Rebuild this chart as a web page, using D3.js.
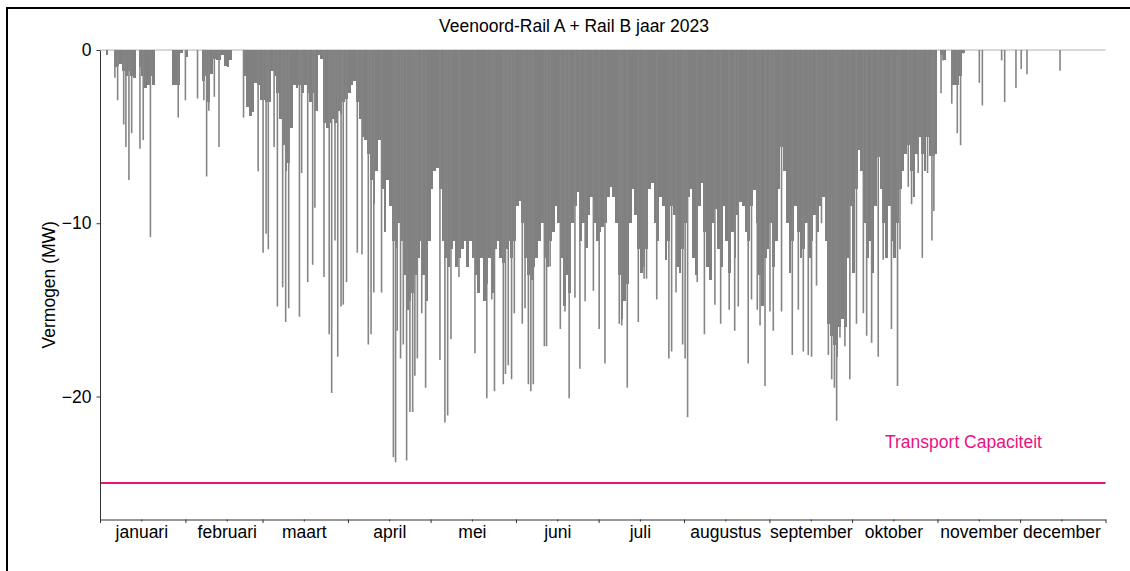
<!DOCTYPE html>
<html>
<head>
<meta charset="utf-8">
<script src="https://d3js.org/d3.v7.min.js"></script>
<style>
  body { margin: 0; background: #fff; }
  svg text { font-family: "Liberation Sans", Arial, sans-serif; }
</style>
</head>
<body>
<svg width="1130" height="571"></svg>
<script>
// dichte vulling per dag (MW), gelezen uit de grafiek
const vulJan = [0,0,-0.3,0,0,-1.0,-0.9,-0.8,-1.2,-1.5,-1.2,-1.5,-1.6,0,-1.0,-1.5,-2.2,-2.0,-1.5,-2.0,0,0,0,0,0,0,-2.0,-2.0,-2.0,-0.2,0];
const vulFeb = [-0.4,0,0,0,0,0,-1.8,-1.5,-3.0,-1.4,-0.5,-0.6,-0.6,-0.3,-0.9,-1.0,-0.6,0,0,0,0,-1.5,-3.3,-3.8,-3.6,-1.9,-2.0,-2.9];
const vulMrt = [-2.9,-3.0,-3.0,-1.2,-1.5,-2.5,-4.0,-5.5,-7.0,-6.5,-4.5,-2.0,-2.2,-2.0,-2.5,-2.0,-2.5,-3.0,-2.5,-3.5,-0.3,-0.5,-4.2,-4.5,-4.2,-4.0,-4.2,-3.5,-3.7,-3.0,-2.8];
const vulApr = [-2.5,-2.0,-1.8,-3.0,-4.0,-5.0,-5.2,-6.0,-7.5,-8.9,-7.0,-5.2,-8.0,-10.5,-7.5,-9.0,-11.0,-11.4,-10.0,-11.0,-13.0,-15.0,-14.5,-14.0,-13.0,-12.0,-11.0,-13.0,-14.5,-11.0];
const vulMei = [-8.0,-7.0,-6.8,-8.0,-11.0,-12.0,-12.5,-11.5,-11.0,-12.5,-12.0,-11.5,-11.0,-12.5,-11.0,-12.0,-13.0,-14.0,-12.0,-14.5,-13.5,-12.0,-14.0,-11.5,-11.0,-12.0,-12.3,-11.5,-11.0,-12.0,-11.0];
const vulJun = [-9.0,-8.7,-10.0,-12.0,-13.0,-13.3,-12.5,-12.0,-11.0,-10.0,-12.0,-12.5,-11.0,-10.5,-9.0,-10.0,-12.0,-14.8,-13.0,-14.0,-10.0,-9.0,-8.2,-11.0,-10.0,-11.4,-9.5,-8.5,-10.0,-11.0];
const vulJul = [-10.5,-10.2,-10.0,-8.5,-7.9,-8.5,-10.0,-13.0,-15.5,-14.5,-13.5,-10.0,-8.0,-9.5,-11.5,-12.9,-12.5,-11.5,-8.0,-7.7,-10.0,-11.0,-8.5,-9.0,-12.1,-11.0,-9.0,-9.5,-12.5,-12.9,-11.5];
const vulAug = [-10.0,-8.5,-8.0,-12.0,-13.0,-9.0,-7.7,-10.5,-12.5,-13.3,-10.0,-9.2,-11.5,-12.5,-9.0,-11.0,-12.9,-10.5,-12.0,-9.5,-8.8,-9.0,-10.5,-11.0,-9.0,-8.1,-10.0,-13.0,-14.8,-12.0,-11.5];
const vulSep = [-10.0,-12.5,-11.0,-8.0,-5.6,-7.0,-10.0,-12.9,-11.0,-9.0,-10.5,-12.0,-11.5,-10.0,-12.0,-11.0,-9.5,-10.5,-9.0,-8.5,-11.0,-15.8,-16.5,-17.0,-17.7,-16.0,-15.5,-16.0,-12.0,-9.0];
const vulOkt = [-12.9,-8.0,-5.8,-7.0,-10.0,-12.0,-11.0,-12.9,-9.0,-6.2,-8.0,-10.0,-12.0,-9.0,-11.0,-12.0,-10.0,-8.0,-7.0,-6.0,-5.5,-7.0,-8.5,-6.0,-5.0,-6.0,-7.0,-5.0,-6.1,-6.1,-6.0];
const vulNov = [0,-0.3,-0.6,0,0,-2.0,-2.0,-2.0,-1.5,-0.2,0,0,0,0,0,0,0,0,0,0,0,0,0,0,0,0,0,0,0,0];
const vulDec = [0,0,0,0,0,0,0,0,0,0,0,0,0,0,0,0,0,0,0,0,0,0,0,0,0,0,0,0,0,0,0];

// losse pieken: [dag van het jaar, MW]
const pieken = [
  [5.4,-1.6],[6.4,-2.9],[8.6,-4.3],[9.4,-5.6],[10.5,-7.5],[11.5,-4.8],[14.5,-5.7],[15.7,-5.2],[18.3,-10.8],[28.4,-3.9],
  [31.0,-2.9],[35.4,-2.8],[37.7,-2.9],[38.7,-7.3],[39.5,-3.5],[41.5,-2.7],[43.2,-5.6],[52.1,-3.9],[57.4,-7.0],
  [59.2,-11.7],[60.3,-10.6],[61.1,-11.5],[63.2,-5.6],[64.4,-14.8],[66.3,-13.7],[67.4,-15.7],[68.5,-14.9],[72.4,-15.4],[73.2,-7.1],
  [75.4,-13.4],[77.2,-12.4],[78.0,-9.1],[81.3,-13.1],[83.2,-16.4],[84.1,-19.8],[85.3,-11.0],[86.3,-17.7],[87.5,-14.8],[88.3,-14.7],[89.5,-13.4],
  [93.4,-11.7],[95.1,-11.8],[97.4,-17.0],[98.4,-16.4],[99.4,-14.0],[102.2,-14.0],[106.5,-23.5],[107.3,-23.8],[107.9,-16.2],[109.1,-17.8],
  [110.1,-17.0],[111.3,-23.7],[112.5,-20.9],[113.5,-20.9],[114.3,-18.8],[115.2,-17.8],[116.8,-15.2],[118.2,-19.5],
  [123.4,-17.9],[125.2,-21.5],[126.2,-21.1],[127.4,-16.7],[130.3,-13.1],[136.1,-17.5],[140.4,-20.1],[142.2,-14.4],[143.2,-19.7],
  [146.4,-19.3],[147.2,-18.7],[148.2,-18.2],[149.4,-19.0],[150.4,-15.2],
  [153.3,-15.8],[154.3,-14.9],[155.5,-19.3],[156.4,-19.7],[157.3,-19.3],[161.3,-17.1],[162.1,-17.1],[163.4,-12.5],[167.1,-16.1],
  [168.8,-15.1],[170.3,-20.1],[172.4,-14.3],[174.2,-18.4],[176.1,-14.5],[179.1,-13.9],
  [181.2,-16.1],[183.3,-18.1],[188.5,-15.8],[189.4,-15.9],[191.4,-19.5],[195.4,-15.7],[197.5,-13.2],[198.4,-13.2],[202.1,-14.4],
  [206.5,-17.8],[207.5,-17.4],[209.1,-14.0],[211.5,-17.0],
  [212.4,-17.8],[213.3,-21.2],[216.8,-13.4],[219.4,-16.4],[223.2,-14.7],[225.3,-15.8],[228.4,-15.0],[230.4,-16.2],[231.7,-14.8],
  [235.3,-18.1],[236.5,-14.4],[238.6,-15.0],[239.6,-15.9],[241.4,-19.4],
  [243.2,-15.1],[244.4,-16.2],[247.4,-15.1],[251.3,-17.6],[253.5,-15.0],[255.3,-17.4],[257.1,-17.6],[258.3,-17.7],[260.1,-13.6],
  [261.9,-10.0],[264.4,-17.6],[265.6,-19.0],[266.6,-19.5],[267.4,-21.4],[268.6,-16.6],[270.4,-17.1],[272.2,-19.0],
  [274.6,-15.8],[277.1,-15.2],[278.3,-16.5],[280.1,-16.9],[282.5,-17.7],[284.3,-12.1],[287.3,-16.1],[289.5,-19.4],[290.4,-11.5],
  [293.4,-7.9],[294.6,-8.9],[297.0,-7.1],[298.5,-12.0],[300.4,-7.1],[302.0,-11.0],[302.7,-9.3],
  [305.3,-2.5],[306.0,-0.6],[309.2,-3.1],[311.2,-4.8],[312.4,-5.5],[313.4,-0.2],[319.2,-1.9],[320.3,-3.2],
  [327.3,-0.6],[328.4,-3.0],[332.5,-2.2],[334.4,-1.1],[336.5,-1.4],[348.5,-1.2]
];

const maanden = ['januari','februari','maart','april','mei','juni','juli','augustus','september','oktober','november','december'];
const yTicks = [0, -10, -20];
const capaciteit = -25;

const vulling = [].concat(vulJan, vulFeb, vulMrt, vulApr, vulMei, vulJun, vulJul, vulAug, vulSep, vulOkt, vulNov, vulDec);

const start = Date.UTC(2023, 0, 1);
const dag = d => new Date(start + d * 864e5);

const svg = d3.select('svg');

// kader
svg.append('path')
    .attr('d', 'M7,571V8H1130')
    .attr('fill', 'none')
    .attr('stroke', '#000')
    .attr('stroke-width', 2);

const x = d3.scaleUtc()
    .domain([dag(0), dag(365)])
    .range([100, 1105.5]);
const y = d3.scaleLinear()
    .domain([-27.1, 0])
    .range([519.5, 50]);

const plot = svg.append('g');

// nullijn
plot.append('line')
    .attr('x1', x(dag(0))).attr('x2', x(dag(365)))
    .attr('y1', y(0)).attr('y2', y(0))
    .attr('stroke', '#b0b0b0').attr('stroke-width', 1);

plot.selectAll('rect.vul')
    .data(vulling.map((v, i) => ({ i, v })).filter(d => d.v < 0))
    .enter()
    .append('rect')
    .classed('vul', true)
    .attr('x', d => x(dag(d.i)))
    .attr('width', d => x(dag(d.i + 1)) - x(dag(d.i)))
    .attr('y', y(0))
    .attr('height', d => y(d.v) - y(0))
    .attr('fill', '#808080')
    .attr('shape-rendering', 'crispEdges');

plot.selectAll('line.piek')
    .data(pieken)
    .enter()
    .append('line')
    .classed('piek', true)
    .attr('x1', d => x(dag(d[0])))
    .attr('x2', d => x(dag(d[0])))
    .attr('y1', y(0))
    .attr('y2', d => y(d[1]))
    .attr('stroke', '#858585')
    .attr('stroke-width', 1.6);

// transport capaciteit
plot.append('line')
    .attr('x1', x(dag(0))).attr('x2', x(dag(365)))
    .attr('y1', y(capaciteit)).attr('y2', y(capaciteit))
    .attr('stroke', '#e8127f').attr('stroke-width', 2);
plot.append('text')
    .attr('x', 885)
    .attr('y', y(capaciteit) - 35)
    .attr('fill', '#e8127f')
    .attr('font-size', '17.5px')
    .text('Transport Capaciteit');

// assen
const yAxis = svg.append('g')
    .attr('transform', 'translate(100,0)')
    .call(d3.axisLeft(y).tickValues(yTicks).tickSize(3.5).tickSizeOuter(0).tickPadding(5).tickFormat(d3.format('d')));
yAxis.selectAll('text').attr('font-size', '17.5px').attr('fill', '#000');

const maandStart = d3.range(13).map(m => new Date(Date.UTC(2023, m, 1)));
const maandMidden = d3.range(12).map(m => new Date(Date.UTC(2023, m, 16)));

const xMajor = svg.append('g')
    .attr('transform', 'translate(0,519.5)')
    .call(d3.axisBottom(x).tickValues(maandStart).tickSize(3.5).tickSizeOuter(0).tickFormat(''));
const xMinor = svg.append('g')
    .attr('transform', 'translate(0,519.5)')
    .call(d3.axisBottom(x).tickValues(maandMidden).tickSize(2).tickSizeOuter(0).tickPadding(4)
        .tickFormat((d, i) => maanden[i]));
xMinor.select('.domain').remove();
xMinor.selectAll('text').attr('font-size', '17.5px').attr('fill', '#000');

svg.selectAll('.domain, .tick line').attr('stroke', '#333');

svg.append('text')
    .attr('transform', 'translate(55,' + (y(-27.1) + y(0)) / 2 + ') rotate(-90)')
    .attr('text-anchor', 'middle')
    .attr('font-size', '17.5px')
    .text('Vermogen (MW)');

svg.append('text')
    .attr('x', 574)
    .attr('y', 32)
    .attr('text-anchor', 'middle')
    .attr('font-size', '17.5px')
    .text('Veenoord-Rail A + Rail B jaar 2023');
</script>
</body>
</html>
